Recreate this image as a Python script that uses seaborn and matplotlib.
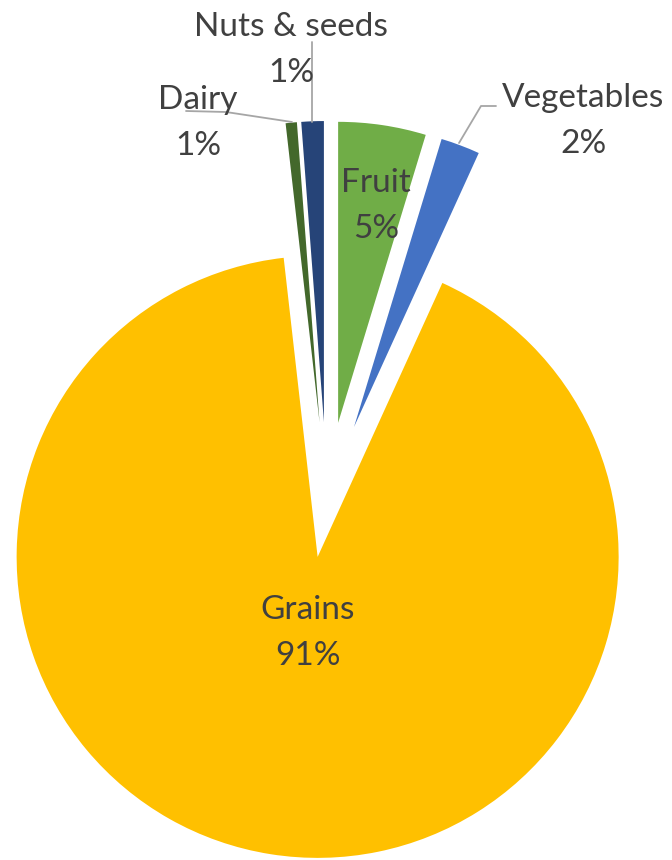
import matplotlib
matplotlib.use("Agg")
import matplotlib.pyplot as plt
import seaborn as sns

# Share of the food group in the diet (percent)
categories = ["Fruit", "Vegetables", "Grains", "Dairy", "Nuts & seeds"]
shares = [4.7, 2.1, 91.4, 0.6, 1.2]
colors = ["#70AD47", "#4472C4", "#FFC000", "#43682B", "#264478"]

sns.set_theme(style="white")
plt.rcParams["font.family"] = ["Lato", "DejaVu Sans"]

W, H = 672, 860
fig = plt.figure(figsize=(W / 100, H / 100), dpi=100)
ax = fig.add_axes([0, 0, 1, 1])

R = 301
cx, cy = 326.8, H - 499
# explode offsets are in data units (pixels here)
explode = [77, 77, 58.6, 77, 77]

wedges, _ = ax.pie(
    shares,
    colors=colors,
    explode=explode,
    startangle=90,
    counterclock=False,
    radius=R,
    center=(cx, cy),
    frame=True,
    wedgeprops=dict(linewidth=0),
)
ax.set_xlim(0, W)
ax.set_ylim(0, H)
ax.set_aspect("equal")
ax.axis("off")

txt = "#404040"
fs = 24
lbl = {c: f"{c}\n{v:.0f}%" for c, v in zip(categories, shares)}

def put(name, x, y):
    ax.text(x, H - y, lbl[name], ha="center", va="center", color=txt,
            fontsize=fs, linespacing=1.7)

put("Fruit", 376, 206)
put("Grains", 308, 633)
put("Vegetables", 583, 121)
put("Nuts & seeds", 291, 50)
put("Dairy", 198, 123)

lc = "#A6A6A6"
# leader lines for the small outer labels
ax.plot([459, 481, 496], [H - 143, H - 106, H - 106], color=lc, lw=1.3)
ax.plot([312, 312], [H - 42, H - 122], color=lc, lw=1.3)
ax.plot([186, 226, 292], [H - 111, H - 112, H - 122], color=lc, lw=1.3)

fig.savefig("out.png", dpi=100, facecolor="white")
